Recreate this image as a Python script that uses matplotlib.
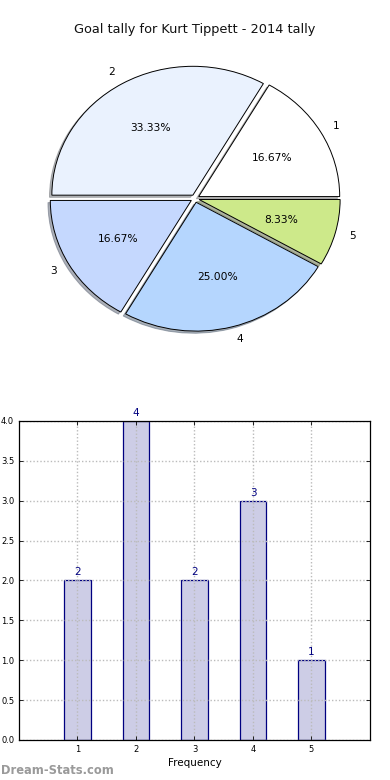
import matplotlib
matplotlib.use("Agg")
import matplotlib.pyplot as plt

title = "Goal tally for Kurt Tippett - 2014 tally"
categories = ["1", "2", "3", "4", "5"]
counts = [2, 4, 2, 3, 1]
pie_colors = ["#ffffff", "#eaf2fe", "#c5d8fe", "#b5d6fe", "#cde98a"]
x_positions = [1, 2, 3, 4, 5]
y_ticks = [0.0, 0.5, 1.0, 1.5, 2.0, 2.5, 3.0, 3.5, 4.0]

fig = plt.figure(figsize=(3.9, 7.8), dpi=100)
fig.patch.set_facecolor("white")

fig.text(0.5, 1 - 30 / 780, title, ha="center", va="center", fontsize=9.3, color="#111111")

# Pie
axp = fig.add_axes([0.048, 0.539, 0.904, 0.413])
wedges, texts, autotexts = axp.pie(
    counts, labels=categories, colors=pie_colors, autopct="%.2f%%",
    explode=[0.03] * len(counts),
    shadow={"ox": -0.012, "oy": -0.012, "shade": 0.55},
    startangle=0, counterclock=True,
    wedgeprops=dict(edgecolor="black", linewidth=0.7),
    textprops=dict(fontsize=7.7),
)
axp.set_aspect("auto")
axp.set_xlim(-1.25, 1.25)
axp.set_ylim(-1.25, 1.25)

# Bars
axb = fig.add_axes([0.0487, 0.0513, 0.9, 0.409])
bars = axb.bar(x_positions, counts, width=0.45, color="#cdcde6", edgecolor="#000080",
               linewidth=0.9, zorder=1)
axb.set_axisbelow(False)
axb.grid(True, linestyle=(0, (1, 1.5)), color="#bbbbbb", linewidth=1.0, zorder=2)
axb.set_xlim(0, 6)
axb.set_ylim(0, 4)
axb.set_xticks(x_positions)
axb.set_xticklabels(categories)
axb.set_yticks(y_ticks)
axb.set_yticklabels([f"{v:.1f}" for v in y_ticks])
axb.tick_params(axis="both", direction="in", labelsize=6, length=3, width=0.6,
                top=True, right=True, colors="black")
for s in axb.spines.values():
    s.set_linewidth(0.9)
    s.set_zorder(5)
for xp, v in zip(x_positions, counts):
    axb.text(xp, v + 0.04, str(v), ha="center", va="bottom", fontsize=7.5, color="#000080")
axb.set_xlabel("Frequency", fontsize=7.5, labelpad=3)

fig.text(0.002, 1 - 770 / 780, "Dream-Stats.com", ha="left", va="center", fontsize=8.3,
         color="#9a9a9a", fontweight="bold")

fig.savefig("out.png", dpi=100)
